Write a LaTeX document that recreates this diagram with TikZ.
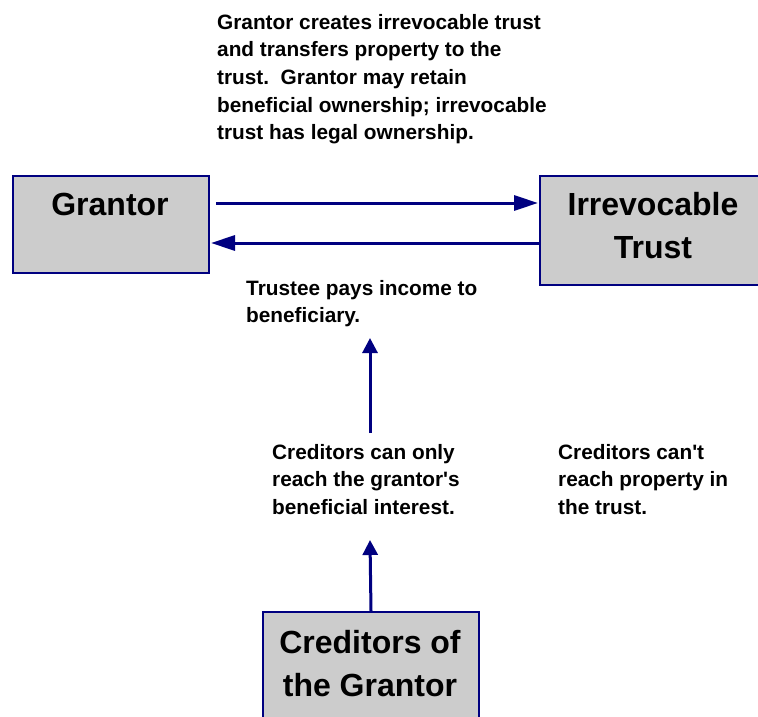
\documentclass[tikz,border=0pt]{standalone}
\usepackage{fontspec}
\setmainfont{Liberation Sans}
\usetikzlibrary{arrows.meta}
\definecolor{navy}{RGB}{0,0,128}
\definecolor{boxgray}{RGB}{204,204,204}
\begin{document}
\begin{tikzpicture}[x=1pt,y=-1pt,
 box/.style={draw=navy, line width=2pt, fill=boxgray, rectangle, inner sep=0pt, anchor=north west},
 bigtxt/.style={font=\fontsize{32}{43}\selectfont\bfseries, align=center, inner sep=0pt, anchor=north},
 smalltxt/.style={font=\fontsize{20.8}{27.6}\selectfont\bfseries, align=left, inner sep=0pt, anchor=north west},
 harr/.style={draw=navy, line width=3pt, -{Triangle[length=24pt,width=15pt]}},
 varr/.style={draw=navy, line width=3pt, -{Triangle[length=15pt,width=15pt]}}]
\useasboundingbox (0,0) rectangle (758,717);
\clip (0,0) rectangle (758,717);
% boxes
\node[box, minimum width=196pt, minimum height=97pt] (grantor) at (12,175) {};
\node[box, minimum width=240pt, minimum height=109pt] (trust) at (539,175) {};
\node[box, minimum width=216pt, minimum height=130pt] (creditors) at (262,611) {};
% box labels
\node[bigtxt] (grantorlbl) at (110,193) {Grantor};
\node[bigtxt] (trustlbl) at (653,192) {Irrevocable\\Trust};
\node[bigtxt] (creditorslbl) at (370,630) {Creditors of\\the Grantor};
% texts
\node[smalltxt] (toptext) at (217,14) {Grantor creates irrevocable trust\\and transfers property to the\\trust.~~Grantor may retain\\beneficial ownership; irrevocable\\trust has legal ownership.};
\node[smalltxt] (paytext) at (246,280) {Trustee pays income to\\beneficiary.};
\node[smalltxt] (onlytext) at (272,444) {Creditors can only\\reach the grantor\textquotesingle s\\beneficial interest.};
\node[smalltxt] (canttext) at (558,444) {Creditors can\textquotesingle t\\reach property in\\the trust.};
% helper coordinates
\coordinate (ytop) at (0,203);
\coordinate (ybot) at (0,243);
\coordinate (uptail) at (370,433);
\coordinate (uptip) at (370,338);
\coordinate (lowtip) at (370,540);
% connectors
\draw[harr] ([xshift=6pt]grantor.east |- ytop) -- ([xshift=-1pt]trust.west |- ytop);
\draw[harr] (trust.west |- ybot) -- ([xshift=1pt]grantor.east |- ybot);
\draw[varr] (uptail) -- (uptip);
\draw[varr] (creditors.north) -- (lowtip);
\end{tikzpicture}
\end{document}
